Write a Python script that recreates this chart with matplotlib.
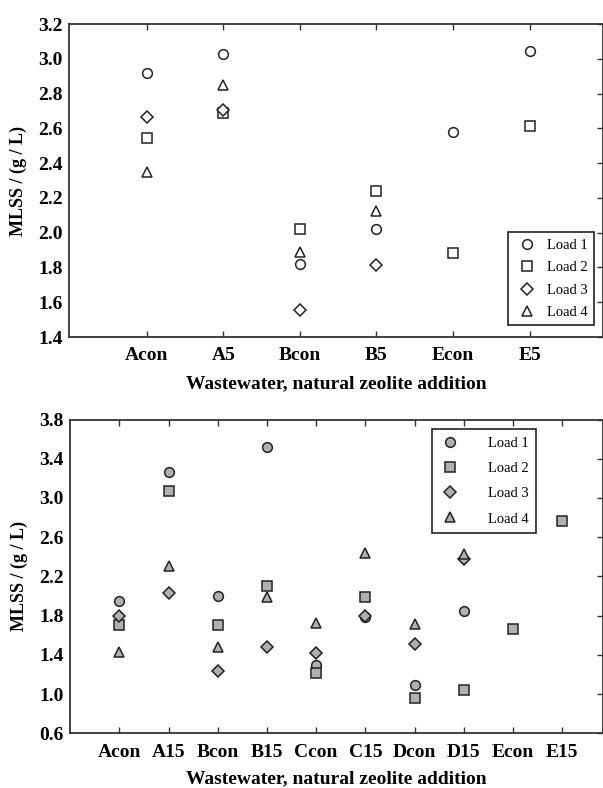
import numpy as np
import matplotlib.pyplot as plt

plt.rcParams['font.family'] = ['Liberation Serif', 'DejaVu Serif']

# ---- data: upper panel (5 % zeolite) ----
cats_top = ["Acon", "A5", "Bcon", "B5", "Econ", "E5"]
top_load1 = [2.92, 3.03, 1.82, 2.02, 2.58, 3.045]
top_load2 = [2.545, 2.69, 2.02, 2.24, 1.885, 2.615]
top_load3 = [2.665, 2.705, 1.555, 1.815, np.nan, np.nan]
top_load4 = [2.35, 2.85, 1.89, 2.125, np.nan, np.nan]

# ---- data: lower panel (15 % zeolite) ----
cats_bot = ["Acon", "A15", "Bcon", "B15", "Ccon", "C15", "Dcon", "D15", "Econ", "E15"]
bot_load1 = [1.945, 3.26, 2.00, 3.52, 1.30, 1.79, 1.09, 1.85, np.nan, np.nan]
bot_load2 = [1.70, 3.07, 1.70, 2.10, 1.21, 1.99, 0.96, 1.04, 1.66, 2.77]
bot_load3 = [1.80, 2.03, 1.24, 1.48, 1.42, 1.80, 1.51, 2.38, np.nan, np.nan]
bot_load4 = [1.43, 2.31, 1.48, 1.99, 1.73, 2.44, 1.71, 2.43, np.nan, np.nan]

labels = ["Load 1", "Load 2", "Load 3", "Load 4"]
markers = ["o", "s", "D", "^"]
msizes = [7, 7.5, 6.3, 7.5]

fig = plt.figure(figsize=(6.03, 7.88), dpi=100)

bold = dict(fontsize=14, fontweight='bold')


def style_axes(ax, cats, xlim, ylim, yticks, pad_x):
    x = np.arange(len(cats))
    ax.set_xlim(*xlim)
    ax.set_ylim(*ylim)
    ax.set_xticks(x)
    ax.set_xticklabels(cats, **bold)
    ax.set_yticks(yticks)
    ax.set_yticklabels([f"{v:.1f}" for v in yticks], **bold)
    ax.tick_params(axis='x', direction='in', top=True, bottom=True, length=4,
                   width=1.0, pad=pad_x, color='#333333')
    ax.tick_params(axis='y', direction='in', left=False, right=True, length=4,
                   width=1.0, pad=4.5, color='#333333')
    for s in ax.spines.values():
        s.set_linewidth(1.3)
        s.set_color('#333333')
    ax.set_xlabel("Wastewater, natural zeolite addition", **bold)
    ax.set_ylabel("MLSS / (g / L)", fontsize=13, fontweight='bold')


# upper panel
ax1 = fig.add_axes([0.1144, 0.5723, 0.8856, 0.3972])
x1 = np.arange(len(cats_top))
for vals, m, ms, lab in zip([top_load1, top_load2, top_load3, top_load4], markers, msizes, labels):
    ax1.plot(x1, vals, linestyle='none', marker=m, ms=ms, mfc='white',
             mec='#222222', mew=1.1, label=lab)
style_axes(ax1, cats_top, (-1.014, 5.957), (1.4, 3.2), np.arange(1.4, 3.21, 0.2), 7)
ax1.xaxis.labelpad = 8
ax1.yaxis.labelpad = 8
leg1 = ax1.legend(loc='upper left', bbox_to_anchor=(0.842, 0.7052),
                  bbox_transform=fig.transFigure, borderaxespad=0, fancybox=False,
                  edgecolor='#222222', framealpha=1, fontsize=10.5, handlelength=1.77,
                  handletextpad=0.5, labelspacing=0.64, borderpad=0.42)
leg1.get_frame().set_linewidth(1.2)

# lower panel
ax2 = fig.add_axes([0.1161, 0.0694, 0.8839, 0.3982])
x2 = np.arange(len(cats_bot))
for vals, m, ms, lab in zip([bot_load1, bot_load2, bot_load3, bot_load4], markers, msizes, labels):
    ax2.plot(x2, vals, linestyle='none', marker=m, ms=ms, mfc='#b0b0b0',
             mec='#222222', mew=1.1, label=lab)
style_axes(ax2, cats_bot, (-1.002, 9.83), (0.6, 3.8), np.arange(0.6, 3.81, 0.4), 7.5)
ax2.xaxis.labelpad = 7
ax2.yaxis.labelpad = 8
leg2 = ax2.legend(loc='upper left', bbox_to_anchor=(0.716, 0.4552),
                  bbox_transform=fig.transFigure, borderaxespad=0, fancybox=False,
                  edgecolor='#222222', framealpha=1, fontsize=10.5, handlelength=1.52,
                  handletextpad=1.86, labelspacing=0.83, borderpad=0.49)
leg2.get_frame().set_linewidth(1.2)

fig.savefig("out.png", dpi=100)
